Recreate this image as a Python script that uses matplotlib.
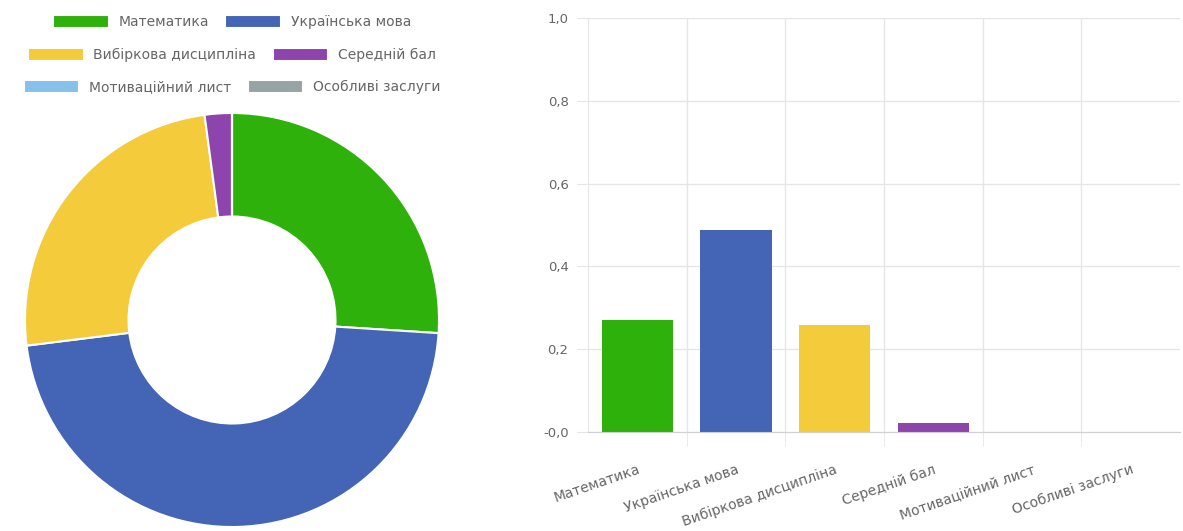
import matplotlib
matplotlib.use("Agg")
import matplotlib.pyplot as plt

categories = ["Математика", "Українська мова", "Вибіркова дисципліна",
              "Середній бал", "Мотиваційний лист", "Особливі заслуги"]
values = [0.27, 0.488, 0.258, 0.022, 0.0, 0.0]
colors = ["#2eb10a", "#4465b5", "#f4cb3b", "#8e44ad", "#85c1e9", "#95a5a6"]
yticks = [0.0, 0.2, 0.4, 0.6, 0.8, 1.0]
ytick_labels = ["-0,0", "0,2", "0,4", "0,6", "0,8", "1,0"]

plt.rcParams['font.family'] = ['DejaVu Sans']
txt = "#666666"
grid = "#e6e6e6"

fig = plt.figure(figsize=(11.83, 5.31), dpi=100)
W, H = 1183, 531

# doughnut
ax1 = fig.add_axes([25 / W, (531 - 527) / H, 414 / W, 414 / H])
wedges, _ = ax1.pie(values, colors=colors, startangle=90, counterclock=False,
                    radius=1.0, wedgeprops=dict(width=0.5, edgecolor="white", linewidth=1.5))
ax1.set_xlim(-1, 1)
ax1.set_ylim(-1, 1)
ax1.set_aspect("equal")

# legend rows, centred like chart.js
rows = [(0, 1, 0.99), (2, 3, 0.928), (4, 5, 0.868)]
for a, b, y in rows:
    leg = fig.legend([wedges[a], wedges[b]], [categories[a], categories[b]],
                     loc="upper center", bbox_to_anchor=(232 / W, y), ncol=2,
                     frameon=False, fontsize=10, handlelength=4.0, handleheight=1.1,
                     handletextpad=0.7, columnspacing=1.2, borderpad=0.2)
    for t in leg.get_texts():
        t.set_color(txt)

# bars
ax2 = fig.add_axes([588 / W, (531 - 432) / H, 592 / W, 414 / H])
x = list(range(len(categories)))
ax2.bar(x, values, width=0.72, color=colors)
ax2.set_xlim(-0.5, len(categories) - 0.5)
ax2.set_ylim(0, 1.0)
ax2.set_yticks(yticks)
ax2.set_yticklabels(ytick_labels)
ax2.set_xticks([i + 0.5 for i in x[:-1]], minor=True)
ax2.set_xticks(x)
ax2.set_xticklabels(categories, rotation=19, ha="right", rotation_mode="anchor")
ax2.tick_params(axis="y", which="major", labelsize=9.5, labelcolor=txt, color=grid, length=8, pad=6)
ax2.tick_params(axis="x", which="major", labelsize=10, labelcolor=txt, length=0, pad=22)
ax2.tick_params(axis="x", which="minor", length=10, color=grid)
ax2.grid(axis="y", color=grid, linewidth=1)
ax2.grid(axis="x", which="minor", color=grid, linewidth=1)
ax2.set_axisbelow(True)
for s in ["top", "right"]:
    ax2.spines[s].set_visible(False)
ax2.spines["left"].set_color(grid)
ax2.spines["bottom"].set_color("#d0d0d0")

fig.savefig("out.png", dpi=100, facecolor="white")
